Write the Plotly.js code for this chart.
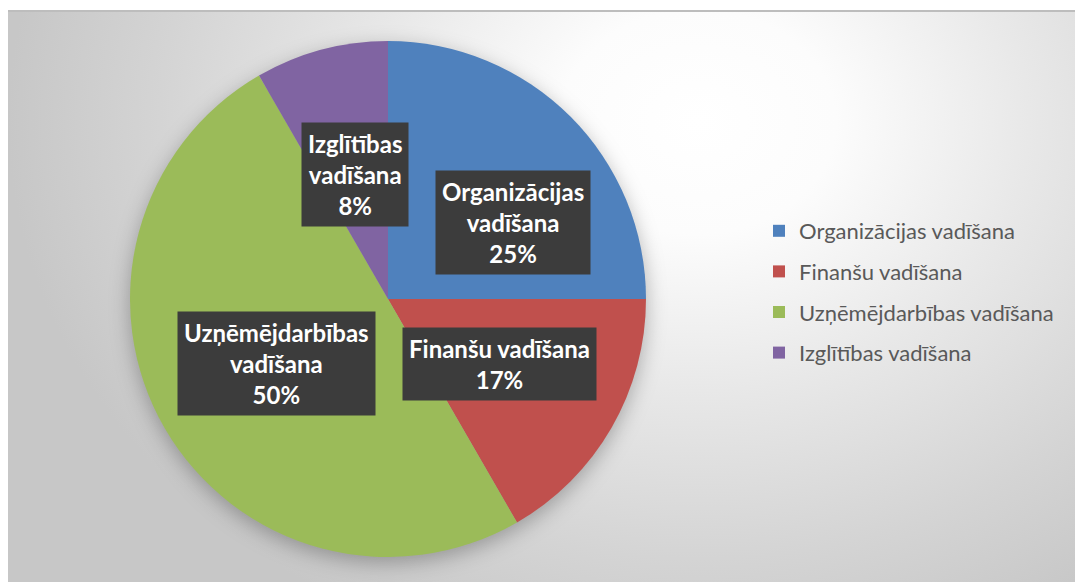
<!DOCTYPE html>
<html>
<head>
<meta charset="utf-8">
<script src="https://cdn.plot.ly/plotly-3.0.1.min.js"></script>
<style>
  html, body { margin: 0; padding: 0; background: #ffffff; }
  #frame {
    position: absolute; left: 8px; top: 10px; width: 1067px; height: 572px;
    background: radial-gradient(ellipse 690px 560px at 690px 110px, #ffffff 0%, #fcfcfc 20%, #e8e8e8 48%, #d4d4d4 78%, #c7c7c7 100%);
    border-top: 2px solid #bdbdbd;
    box-sizing: border-box;
  }
  #chart { position: absolute; left: 0; top: 0; width: 1075px; height: 582px; }
  .pielayer { filter: drop-shadow(0px 6px 10px rgba(0,0,0,0.28)); }
</style>
</head>
<body>
<div id="frame"></div>
<div id="chart"></div>
<script>
// ---- data ----
const categories = ["Organizācijas vadīšana", "Finanšu vadīšana", "Uzņēmējdarbības vadīšana", "Izglītības vadīšana"];
const boxLabels = ["Organizācijas<br>vadīšana", "Finanšu vadīšana", "Uzņēmējdarbības<br>vadīšana", "Izglītības<br>vadīšana"];
const values = [3, 2, 6, 1];
const colors = ["#4f81bd", "#c0504d", "#9bbb59", "#8064a2"];

// ---- layout geometry ----
const W = 1075, H = 582;
const cx = 388, cy = 299, R = 258;
const domX = [(cx - R) / W, (cx + R) / W];
const domY = [(H - cy - R) / H, (H - cy + R) / H];
const labelShift = [[34, -15], [0, 0], [0, 0], [0, 0]]; // best-fit nudges (px)

const total = values.reduce((a, b) => a + b, 0);
const annotations = [];
let cum = 0;
values.forEach((v, i) => {
  const mid = (cum + v / 2) / total * 2 * Math.PI;
  cum += v;
  const px = cx + 0.5 * R * Math.sin(mid);
  const py = cy - 0.5 * R * Math.cos(mid);
  const pct = Math.round(v / total * 100) + "%";
  annotations.push({
    xref: "paper", yref: "paper",
    x: px / W, y: 1 - py / H,
    xanchor: "center", yanchor: "middle",
    xshift: labelShift[i][0], yshift: labelShift[i][1],
    text: boxLabels[i] + "<br>" + pct,
    showarrow: false,
    font: { family: "Lato, 'Open Sans', sans-serif", size: 24, color: "#ffffff", weight: "bold" },
    bgcolor: "#3c3c3c",
    borderpad: 6,
    align: "center"
  });
});

const traces = [{
  type: "pie",
  labels: categories,
  values: values,
  marker: { colors: colors, line: { width: 0 } },
  sort: false,
  direction: "clockwise",
  rotation: 0,
  textinfo: "none",
  hoverinfo: "label+percent",
  showlegend: false,
  domain: { x: domX, y: domY }
}];

// legend entries (one per category)
categories.forEach((c, i) => {
  traces.push({
    type: "scatter", mode: "markers",
    x: [null], y: [null],
    name: c,
    legendgroup: "g" + i,
    marker: { symbol: "square", size: 12, color: colors[i] },
    showlegend: true, hoverinfo: "skip"
  });
});

const layout = {
  width: W, height: H,
  margin: { l: 0, r: 0, t: 0, b: 0 },
  paper_bgcolor: "rgba(0,0,0,0)",
  plot_bgcolor: "rgba(0,0,0,0)",
  xaxis: { visible: false },
  yaxis: { visible: false },
  showlegend: true,
  legend: {
    x: 759 / W, y: 1 - 210 / H, xanchor: "left", yanchor: "top",
    font: { family: "Lato, 'Open Sans', sans-serif", size: 22, color: "#595959" },
    bgcolor: "rgba(0,0,0,0)",
    tracegroupgap: 9,
    traceorder: "grouped"
  },
  annotations: annotations
};

Plotly.newPlot("chart", traces, layout, { displayModeBar: false, staticPlot: true });
</script>
</body>
</html>
